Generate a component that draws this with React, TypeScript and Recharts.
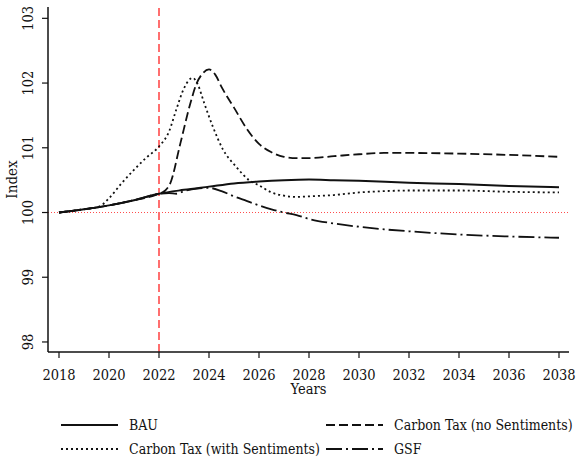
import React from 'react';
import { LineChart, Line, XAxis, YAxis, CartesianGrid, ReferenceLine, Legend } from 'recharts';

const xTicks = [2018, 2020, 2022, 2024, 2026, 2028, 2030, 2032, 2034, 2036, 2038];
const yTicks = [98, 99, 100, 101, 102, 103];

const bauYears = [2018, 2019, 2020, 2021, 2022, 2023, 2024, 2025, 2026, 2027, 2028, 2029, 2030, 2032, 2034, 2036, 2038];
const bauValues = [100, 100.05, 100.11, 100.19, 100.29, 100.35, 100.4, 100.45, 100.48, 100.5, 100.51, 100.5, 100.49, 100.46, 100.44, 100.41, 100.39];

const noSentYears = [2018, 2019, 2020, 2021, 2022, 2022.25, 2022.45, 2022.85, 2023.25, 2023.5, 2023.75, 2024, 2024.25, 2024.5, 2025, 2025.5, 2026, 2026.5, 2027, 2027.5, 2028, 2029, 2030, 2031, 2032, 2034, 2036, 2038];
const noSentValues = [100, 100.05, 100.11, 100.19, 100.29, 100.34, 100.45, 101.06, 101.68, 101.99, 102.15, 102.21, 102.13, 101.94, 101.62, 101.3, 101.06, 100.93, 100.86, 100.84, 100.84, 100.87, 100.9, 100.92, 100.92, 100.91, 100.89, 100.86];

const withSentYears = [2018, 2019, 2019.6, 2020, 2020.5, 2021, 2021.5, 2022, 2022.4, 2022.7, 2023, 2023.35, 2023.55, 2023.8, 2024.15, 2024.55, 2025.1, 2025.6, 2026, 2026.5, 2027, 2027.5, 2028, 2029, 2030, 2031, 2032, 2034, 2036, 2038];
const withSentValues = [100, 100.05, 100.09, 100.22, 100.45, 100.66, 100.85, 101.02, 101.25, 101.6, 101.92, 102.08, 101.98, 101.7, 101.33, 100.98, 100.7, 100.5, 100.42, 100.31, 100.26, 100.24, 100.25, 100.27, 100.31, 100.33, 100.34, 100.34, 100.32, 100.31];

const gsfYears = [2018, 2019, 2020, 2021, 2022, 2022.4, 2022.7, 2023, 2023.5, 2024, 2024.5, 2025, 2025.5, 2026, 2026.5, 2027, 2027.5, 2028, 2029, 2030, 2031, 2032, 2034, 2036, 2038];
const gsfValues = [100, 100.05, 100.11, 100.19, 100.29, 100.3, 100.29, 100.33, 100.37, 100.38, 100.33, 100.25, 100.18, 100.11, 100.05, 100.0, 99.96, 99.9, 99.83, 99.78, 99.74, 99.71, 99.66, 99.63, 99.61];

const policyYear = 2022;
const baseline = 100;

const toData = (xs: number[], ys: number[]) => xs.map((x, i) => ({ x, y: ys[i] }));

const FONT = "'DejaVu Serif Condensed', 'DejaVu Serif', serif";
const INK = '#111111';

const series = [
  { name: 'BAU', data: toData(bauYears, bauValues), dash: undefined as string | undefined, width: 2 },
  { name: 'Carbon Tax (no Sentiments)', data: toData(noSentYears, noSentValues), dash: '9 4', width: 1.8 },
  { name: 'Carbon Tax (with Sentiments)', data: toData(withSentYears, withSentValues), dash: '2 3', width: 1.8 },
  { name: 'GSF', data: toData(gsfYears, gsfValues), dash: '16 4 2 4', width: 1.8 },
];

const XTick = (props: any) => {
  const { x, y, payload } = props;
  return (
    <text x={x} y={y + 22} textAnchor="middle" fontFamily={FONT} fontSize={14.5} fill={INK}>
      {payload.value}
    </text>
  );
};

const YTick = (props: any) => {
  const { x, y, payload } = props;
  const bx = x - 9;
  return (
    <text x={bx} y={y} transform={`rotate(-90, ${bx}, ${y})`} textAnchor="middle" fontFamily={FONT} fontSize={14.5} fill={INK}>
      {payload.value}
    </text>
  );
};

const XLabel = (props: any) => {
  const vb = props.viewBox;
  return (
    <text x={vb.x + vb.width / 2} y={vb.y + 42} textAnchor="middle" fontFamily={FONT} fontSize={14.5} fill={INK}>
      Years
    </text>
  );
};

const YLabel = (props: any) => {
  const vb = props.viewBox;
  const cy = vb.y + vb.height / 2;
  const bx = 17;
  return (
    <text x={bx} y={cy} transform={`rotate(-90, ${bx}, ${cy})`} textAnchor="middle" fontFamily={FONT} fontSize={15} fill={INK}>
      Index
    </text>
  );
};

const legendLayout = [
  { lx: 61, ty: 0 },
  { lx: 326, ty: 0 },
  { lx: 61, ty: 1 },
  { lx: 326, ty: 1 },
];
const legendOrder = [0, 1, 2, 3];

const LegendContent = () => (
  <svg width={582} height={64} style={{ display: 'block' }}>
    {legendOrder.map((si, i) => {
      const s = series[si];
      const pos = legendLayout[i];
      const ly = 28 + pos.ty * 24;
      return (
        <g key={s.name}>
          <line x1={pos.lx} x2={pos.lx + 57} y1={ly} y2={ly} stroke={INK} strokeWidth={s.width} strokeDasharray={s.dash} />
          <text x={pos.lx + 68} y={ly + 5} fontFamily={FONT} fontSize={14} fill={INK}>
            {s.name}
          </text>
        </g>
      );
    })}
  </svg>
);

export default function App() {
  return (
    <div style={{ position: 'absolute', left: 0, top: 0, width: 582, height: 461, background: '#fff' }}>
      <LineChart width={582} height={461} margin={{ top: 7, right: 13, left: 0, bottom: 0 }}>
        <CartesianGrid stroke="#e4e4e4" strokeWidth={1.5} horizontalValues={yTicks} verticalValues={xTicks} />
        <XAxis
          xAxisId="b"
          type="number"
          dataKey="x"
          domain={[2017.56, 2038.4]}
          ticks={xTicks}
          allowDataOverflow
          height={45}
          tickSize={6}
          tickMargin={0}
          tickLine={{ stroke: INK, strokeWidth: 1.2 }}
          axisLine={{ stroke: INK, strokeWidth: 1.5 }}
          tick={<XTick />}
          label={<XLabel />}
          allowDuplicatedCategory={false}
        />
        <XAxis
          xAxisId="t"
          orientation="top"
          type="number"
          dataKey="x"
          domain={[2017.56, 2038.4]}
          allowDataOverflow
          height={0}
          tick={false}
          tickLine={false}
          axisLine={{ stroke: '#8a8a8a', strokeWidth: 1.5 }}
        />
        <YAxis
          yAxisId="l"
          type="number"
          domain={[97.845, 103.175]}
          ticks={yTicks}
          allowDataOverflow
          width={48}
          tickSize={6}
          tickMargin={0}
          tickLine={{ stroke: INK, strokeWidth: 1.2 }}
          axisLine={{ stroke: INK, strokeWidth: 1.5 }}
          tick={<YTick />}
          label={<YLabel />}
        />
        <YAxis
          yAxisId="r"
          orientation="right"
          type="number"
          domain={[97.845, 103.175]}
          allowDataOverflow
          width={0}
          tick={false}
          tickLine={false}
          axisLine={{ stroke: '#7a7a7a', strokeWidth: 2 }}
        />
        <ReferenceLine xAxisId="b" yAxisId="l" y={baseline} stroke="#ff4d4d" strokeWidth={1} strokeDasharray="1 2" />
        <ReferenceLine xAxisId="b" yAxisId="l" x={policyYear} stroke="#ff6f6f" strokeWidth={2} strokeDasharray="8 4" />
        {series.map((s) => (
          <Line
            key={s.name}
            xAxisId="b"
            yAxisId="l"
            data={s.data}
            dataKey="y"
            name={s.name}
            type="monotone"
            stroke={INK}
            strokeWidth={s.width}
            strokeDasharray={s.dash}
            dot={false}
            activeDot={false}
            isAnimationActive={false}
          />
        ))}
        <Legend verticalAlign="bottom" height={64} wrapperStyle={{ left: 0, width: 582 }} content={<LegendContent />} />
      </LineChart>
    </div>
  );
}
